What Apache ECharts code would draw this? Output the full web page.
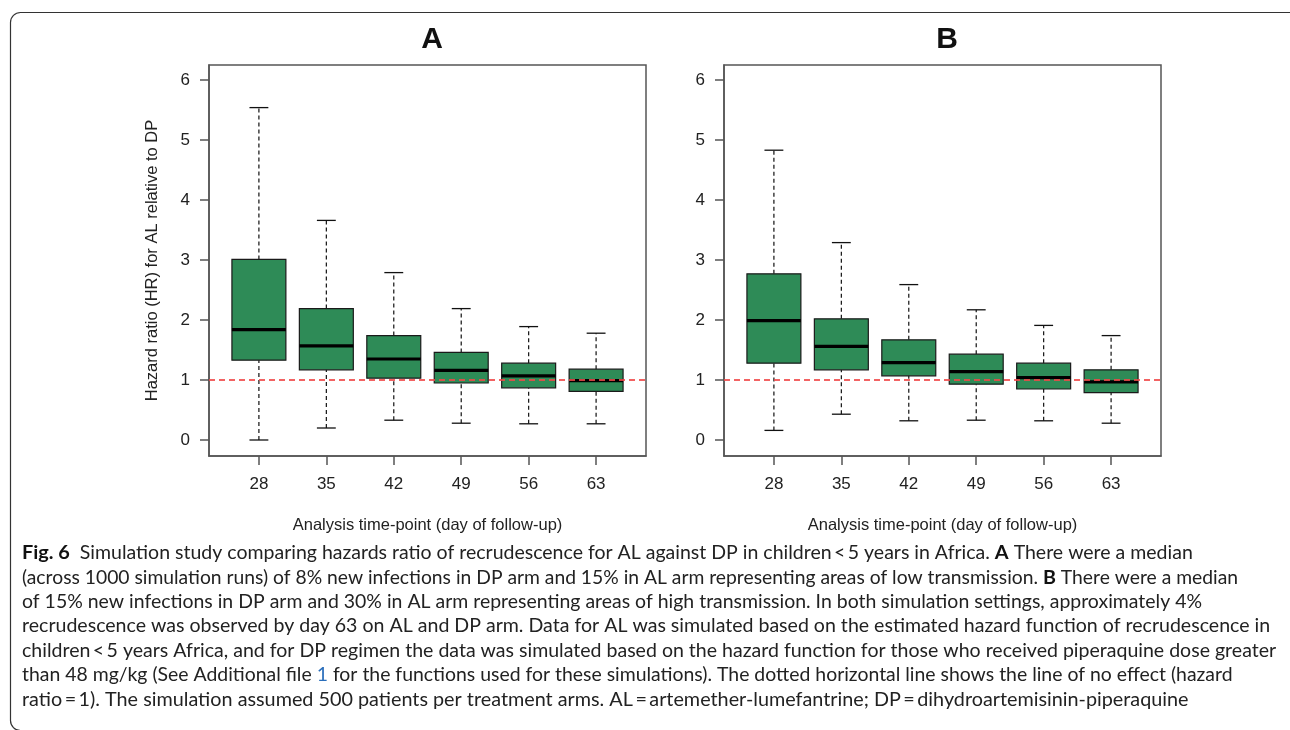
<!DOCTYPE html>
<html>
<head>
<meta charset="utf-8">
<script src="https://cdn.jsdelivr.net/npm/echarts@6/dist/echarts.min.js"></script>
<style>
html,body{margin:0;padding:0;background:#fff;}
#chart{width:1290px;height:730px;}
</style>
</head>
<body>
<div id="chart"></div>
<script>
// ---- data ----
const days = ['28', '35', '42', '49', '56', '63'];
const yTicks = [0, 1, 2, 3, 4, 5, 6];
const noEffect = 1;

// Panel A (low transmission)
const lowA  = [0.00, 0.20, 0.33, 0.28, 0.27, 0.27];
const q1A   = [1.33, 1.17, 1.03, 0.95, 0.87, 0.81];
const medA  = [1.84, 1.57, 1.35, 1.16, 1.07, 0.99];
const q3A   = [3.01, 2.19, 1.74, 1.46, 1.28, 1.18];
const highA = [5.54, 3.66, 2.79, 2.19, 1.89, 1.78];

// Panel B (high transmission)
const lowB  = [0.16, 0.43, 0.32, 0.33, 0.32, 0.28];
const q1B   = [1.28, 1.17, 1.07, 0.93, 0.85, 0.79];
const medB  = [1.99, 1.56, 1.29, 1.14, 1.04, 0.97];
const q3B   = [2.77, 2.02, 1.67, 1.43, 1.28, 1.17];
const highB = [4.83, 3.29, 2.59, 2.17, 1.91, 1.74];

const captionLines = [
  [{t:'Fig. 6', s:'b'}, {t:'  Simulation study comparing hazards ratio of recrudescence for AL against DP in children\u2009<\u20095 years in Africa. '}, {t:'A', s:'b'}, {t:' There were a median'}],
  [{t:'(across 1000 simulation runs) of 8% new infections in DP arm and 15% in AL arm representing areas of low transmission. '}, {t:'B', s:'b'}, {t:' There were a median'}],
  [{t:'of 15% new infections in DP arm and 30% in AL arm representing areas of high transmission. In both simulation settings, approximately 4%'}],
  [{t:'recrudescence was observed by day 63 on AL and DP arm. Data for AL was simulated based on the estimated hazard function of recrudescence in'}],
  [{t:'children\u2009<\u20095 years Africa, and for DP regimen the data was simulated based on the hazard function for those who received piperaquine dose greater'}],
  [{t:'than 48 mg/kg (See Additional file '}, {t:'1', s:'l'}, {t:' for the functions used for these simulations). The dotted horizontal line shows the line of no effect (hazard'}],
  [{t:'ratio\u2009=\u20091). The simulation assumed 500 patients per treatment arms. AL\u2009=\u2009artemether-lumefantrine; DP\u2009=\u2009dihydroartemisinin-piperaquine'}]
];
// where a given word of each caption line sits in the reference (layout anchors)
const captionAnchors = ['A There', 'sion. ', 'tings, approx', 'of recrudescence in', 'raquine dose', 'o effect', 'peraquine'];
const captionAnchorX = [995, 999, 1000, 1103, 1100, 1101, 1102];

// ---- build ----
const FONT = "'Liberation Sans', Arial, sans-serif";
const CAPFAMILY = "Lato, 'Open Sans', sans-serif";
const CAP_LEFT = 22;
const BASE = 19.4;

const mctx = document.createElement('canvas').getContext('2d');
function segFont(s, size) {
  return (s.s === 'b' ? 'bold ' : '') + (s.s === 'b' ? size * 1.02 : size) + 'px ' + CAPFAMILY;
}
function prefixWidth(segs, anchor, size) {
  const full = segs.map(s => s.t).join('');
  const idx = full.indexOf(anchor);
  let w = 0, pos = 0;
  for (const s of segs) {
    const take = Math.max(0, Math.min(s.t.length, idx - pos));
    if (take > 0) { mctx.font = segFont(s, size); w += mctx.measureText(s.t.slice(0, take)).width; }
    pos += s.t.length;
    if (pos >= idx) break;
  }
  return w;
}
const fit = captionLines.map((segs, i) => (captionAnchorX[i] - CAP_LEFT) / prefixWidth(segs, captionAnchors[i], BASE));
const meanFit = fit.reduce((a, b) => a + b, 0) / fit.length;
const CAPSIZE = BASE * meanFit;

function boxData(low, q1, med, q3, high) {
  return days.map((d, i) => [i + 1, low[i], q1[i], med[i], q3[i], high[i]]);
}

function renderBox(params, api) {
  const x = api.value(0);
  const pLow = api.coord([x, api.value(1)]);
  const pQ1 = api.coord([x, api.value(2)]);
  const pMed = api.coord([x, api.value(3)]);
  const pQ3 = api.coord([x, api.value(4)]);
  const pHigh = api.coord([x, api.value(5)]);
  const bw = api.size([0.8, 0])[0];
  const cw = api.size([0.28, 0])[0];
  const cx = pMed[0];
  const dash = {stroke: '#111', lineWidth: 1.2, lineDash: [4, 3]};
  const solid = {stroke: '#111', lineWidth: 1.3};
  return {
    type: 'group',
    children: [
      {type: 'line', shape: {x1: cx, y1: pQ3[1], x2: cx, y2: pHigh[1]}, style: dash},
      {type: 'line', shape: {x1: cx, y1: pLow[1], x2: cx, y2: pQ1[1]}, style: dash},
      {type: 'line', shape: {x1: cx - cw / 2, y1: pHigh[1], x2: cx + cw / 2, y2: pHigh[1]}, style: solid},
      {type: 'line', shape: {x1: cx - cw / 2, y1: pLow[1], x2: cx + cw / 2, y2: pLow[1]}, style: solid},
      {type: 'rect', shape: {x: cx - bw / 2, y: pQ3[1], width: bw, height: pQ1[1] - pQ3[1]},
        style: {fill: '#2e8b57', stroke: '#1a1a1a', lineWidth: 1.2}},
      {type: 'line', shape: {x1: cx - bw / 2, y1: pMed[1], x2: cx + bw / 2, y2: pMed[1]},
        style: {stroke: '#000', lineWidth: 3.2}}
    ]
  };
}

function makeX(gi) {
  return {
    type: 'value', gridIndex: gi, min: 0.26, max: 6.74,
    name: 'Analysis time-point (day of follow-up)',
    nameLocation: 'middle', nameGap: 61,
    nameTextStyle: {fontFamily: FONT, fontSize: 16.5, color: '#222'},
    axisLine: {show: true, onZero: false, lineStyle: {color: '#555', width: 1.5}},
    axisTick: {show: true, length: 9, customValues: days.map((d, i) => i + 1), lineStyle: {color: '#555', width: 1.5}},
    axisLabel: {customValues: days.map((d, i) => i + 1), margin: 20, fontFamily: FONT, fontSize: 17, color: '#222',
      formatter: v => days[Math.round(v) - 1] || ''},
    splitLine: {show: false}
  };
}
function makeY(gi, withName) {
  return {
    type: 'value', gridIndex: gi, min: -0.2667, max: 6.25,
    name: withName ? 'Hazard ratio (HR) for AL relative to DP' : '',
    nameLocation: 'middle', nameGap: 48, nameRotate: 90,
    nameTextStyle: {fontFamily: FONT, fontSize: 16.5, color: '#222'},
    axisLine: {show: true, onZero: false, lineStyle: {color: '#555', width: 1.5}},
    axisTick: {show: true, length: 9, customValues: yTicks, lineStyle: {color: '#555', width: 1.5}},
    axisLabel: {customValues: yTicks, margin: 19, fontFamily: FONT, fontSize: 17, color: '#222'},
    splitLine: {show: false}
  };
}

const markLine = {
  silent: true, symbol: 'none', z: 10,
  label: {show: false},
  lineStyle: {color: '#f04848', type: [6, 4], width: 2, opacity: 0.85},
  data: [{yAxis: noEffect}]
};

const graphics = [
  {type: 'rect', left: 8, top: 10, shape: {width: 1290, height: 718, r: 10},
    style: {fill: 'none', stroke: '#333', lineWidth: 1.2}, z: -1}
];
captionLines.forEach((segs, i) => {
  graphics.push({
    type: 'text', x: CAP_LEFT, y: 553 + i * 24.4,
    scaleX: fit[i] / meanFit,
    style: {
      text: segs.map(s => '{' + (s.s || 'n') + '|' + s.t + '}').join(''),
      verticalAlign: 'middle',
      rich: {
        n: {fontFamily: CAPFAMILY, fontSize: CAPSIZE, fill: '#222'},
        b: {fontFamily: CAPFAMILY, fontSize: CAPSIZE * 1.02, fontWeight: 'bold', fill: '#111'},
        l: {fontFamily: CAPFAMILY, fontSize: CAPSIZE, fill: '#2a6ebb'}
      }
    }
  });
});

const option = {
  animation: false,
  backgroundColor: '#fff',
  title: [
    {text: 'A', left: 427, top: 20, textAlign: 'center', textStyle: {fontFamily: FONT, fontSize: 30, fontWeight: 'bold', color: '#111'}},
    {text: 'B', left: 942, top: 20, textAlign: 'center', textStyle: {fontFamily: FONT, fontSize: 30, fontWeight: 'bold', color: '#111'}}
  ],
  grid: [
    {left: 209, top: 65, width: 437, height: 391, show: true, borderColor: '#555', borderWidth: 1.5, backgroundColor: 'transparent'},
    {left: 724, top: 65, width: 437, height: 391, show: true, borderColor: '#555', borderWidth: 1.5, backgroundColor: 'transparent'}
  ],
  xAxis: [makeX(0), makeX(1)],
  yAxis: [makeY(0, true), makeY(1, false)],
  series: [
    {type: 'custom', xAxisIndex: 0, yAxisIndex: 0, renderItem: renderBox,
      encode: {x: 0, y: [1, 2, 3, 4, 5]}, data: boxData(lowA, q1A, medA, q3A, highA), markLine: markLine},
    {type: 'custom', xAxisIndex: 1, yAxisIndex: 1, renderItem: renderBox,
      encode: {x: 0, y: [1, 2, 3, 4, 5]}, data: boxData(lowB, q1B, medB, q3B, highB), markLine: markLine}
  ],
  graphic: graphics
};

const chart = echarts.init(document.getElementById('chart'), null, {renderer: 'canvas'});
chart.setOption(option);
</script>
</body>
</html>
